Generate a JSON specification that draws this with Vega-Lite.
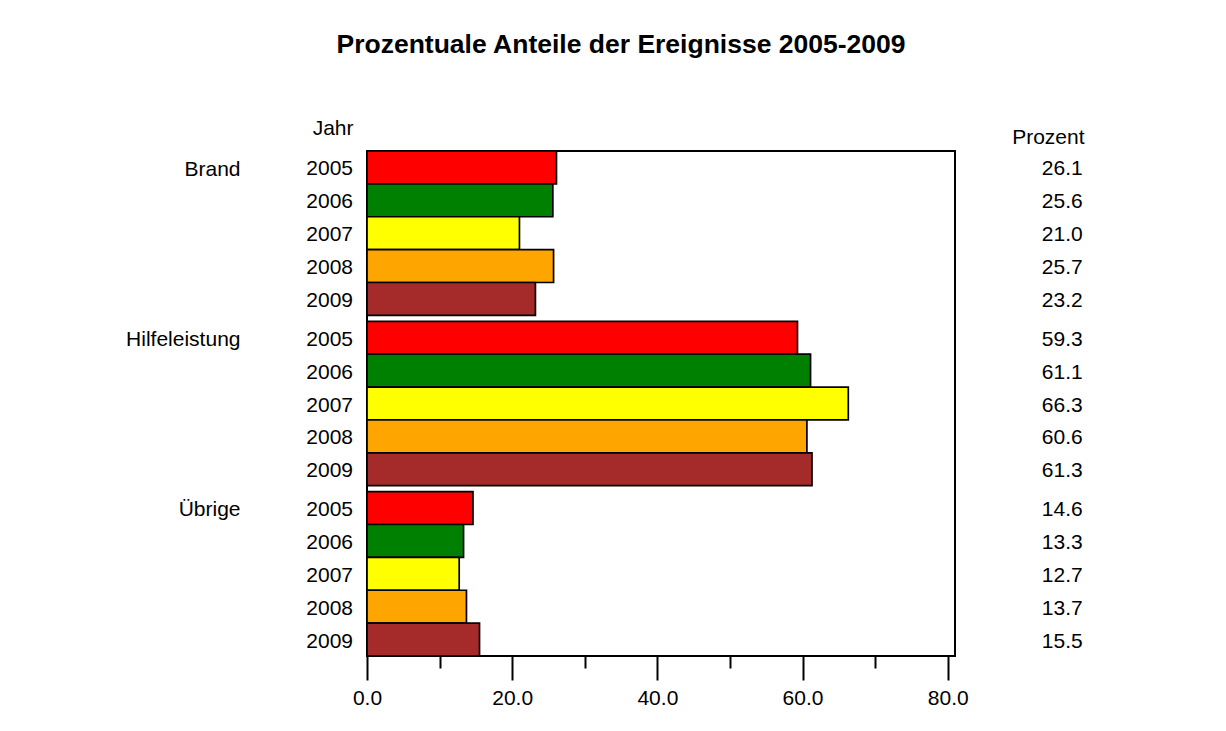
{
  "$schema": "https://vega.github.io/schema/vega-lite/v6.json",
  "autosize": "none",
  "padding": {"left": 367, "top": 151, "right": 271, "bottom": 75},
  "width": 588,
  "height": 505,
  "background": "white",
  "title": {
    "text": "Prozentuale Anteile der Ereignisse 2005-2009",
    "font": "Liberation Sans",
    "fontSize": 26.5,
    "fontWeight": "bold",
    "color": "black",
    "anchor": "middle",
    "frame": "group",
    "baseline": "alphabetic",
    "dx": -40,
    "offset": 38
  },
  "config": {
    "font": "Liberation Sans",
    "view": {"stroke": "black", "strokeWidth": 2}
  },
  "data": {
    "values": [
      {"Ereignis": "Brand", "Jahr": "2005", "Prozent": 26.1},
      {"Ereignis": "Brand", "Jahr": "2006", "Prozent": 25.6},
      {"Ereignis": "Brand", "Jahr": "2007", "Prozent": 21.0},
      {"Ereignis": "Brand", "Jahr": "2008", "Prozent": 25.7},
      {"Ereignis": "Brand", "Jahr": "2009", "Prozent": 23.2},
      {"Ereignis": "Hilfeleistung", "Jahr": "2005", "Prozent": 59.3},
      {"Ereignis": "Hilfeleistung", "Jahr": "2006", "Prozent": 61.1},
      {"Ereignis": "Hilfeleistung", "Jahr": "2007", "Prozent": 66.3},
      {"Ereignis": "Hilfeleistung", "Jahr": "2008", "Prozent": 60.6},
      {"Ereignis": "Hilfeleistung", "Jahr": "2009", "Prozent": 61.3},
      {"Ereignis": "Übrige", "Jahr": "2005", "Prozent": 14.6},
      {"Ereignis": "Übrige", "Jahr": "2006", "Prozent": 13.3},
      {"Ereignis": "Übrige", "Jahr": "2007", "Prozent": 12.7},
      {"Ereignis": "Übrige", "Jahr": "2008", "Prozent": 13.7},
      {"Ereignis": "Übrige", "Jahr": "2009", "Prozent": 15.5}
    ]
  },
  "layer": [
    {
      "mark": {"type": "bar", "stroke": "black", "strokeWidth": 1.7},
      "encoding": {
        "y": {
          "field": "Ereignis", "type": "nominal",
          "sort": ["Brand", "Hilfeleistung", "Übrige"],
          "scale": {"paddingInner": 0.035, "paddingOuter": 0},
          "axis": {
            "title": "Jahr", "titleAngle": 0, "titleAlign": "right", "titleBaseline": "middle",
            "titleX": -14, "titleY": -23, "titleFontSize": 21, "titleFontWeight": "normal", "titleColor": "black",
            "titleFont": "Liberation Sans",
            "labelFontSize": 21, "labelColor": "black", "labelAlign": "right", "labelBaseline": "middle",
            "labelPadding": 127, "labelOffset": -63.5, "ticks": false, "domain": false, "grid": false,
            "labelFont": "Liberation Sans"
          }
        },
        "yOffset": {"field": "Jahr", "type": "nominal", "sort": "ascending", "scale": {"paddingInner": 0, "paddingOuter": 0}},
        "x": {
          "field": "Prozent", "type": "quantitative",
          "scale": {"domain": [0, 81], "nice": false, "zero": true},
          "axis": {
            "values": [0, 10, 20, 30, 40, 50, 60, 70, 80],
            "format": ".1f",
            "labelExpr": "datum.value % 20 === 0 ? datum.label : ''",
            "labelFlush": false,
            "labelOverlap": false,
            "tickSize": {"condition": {"test": "datum.value % 20 === 0", "value": 24}, "value": 12},
            "tickWidth": 2, "tickColor": "black",
            "domain": false, "grid": false, "title": null,
            "labelFontSize": 21, "labelColor": "black", "labelPadding": 7, "labelFont": "Liberation Sans"
          }
        },
        "color": {
          "field": "Jahr", "type": "nominal",
          "scale": {"domain": ["2005", "2006", "2007", "2008", "2009"], "range": ["#ff0000", "#008000", "#ffff00", "#ffa500", "#a52a2a"]},
          "legend": null
        }
      }
    },
    {
      "mark": {"type": "text", "align": "right", "baseline": "middle", "dx": -14, "dy": 2, "fontSize": 21, "color": "black", "font": "Liberation Sans"},
      "encoding": {
        "y": {"field": "Ereignis", "type": "nominal", "sort": ["Brand", "Hilfeleistung", "Übrige"], "scale": {"paddingInner": 0.035, "paddingOuter": 0}, "axis": null},
        "yOffset": {"field": "Jahr", "type": "nominal", "sort": "ascending", "scale": {"paddingInner": 0, "paddingOuter": 0}},
        "x": {"datum": 0},
        "text": {"field": "Jahr"}
      }
    },
    {
      "mark": {"type": "text", "align": "right", "baseline": "middle", "dx": 135, "dy": 2, "fontSize": 21, "color": "black", "font": "Liberation Sans"},
      "encoding": {
        "y": {
          "field": "Ereignis", "type": "nominal", "sort": ["Brand", "Hilfeleistung", "Übrige"],
          "scale": {"paddingInner": 0.035, "paddingOuter": 0},
          "axis": {
            "orient": "right", "title": "Prozent", "titleAngle": 0, "titleAlign": "right", "titleBaseline": "middle",
            "titleX": 129, "titleY": -14, "titleFontSize": 21, "titleFontWeight": "normal", "titleColor": "black",
            "titleFont": "Liberation Sans",
            "labels": false, "ticks": false, "domain": false, "grid": false
          }
        },
        "yOffset": {"field": "Jahr", "type": "nominal", "sort": "ascending", "scale": {"paddingInner": 0, "paddingOuter": 0}},
        "x": {"datum": 80},
        "text": {"field": "Prozent", "type": "quantitative", "format": ".1f"}
      }
    }
  ],
  "resolve": {"scale": {"y": "independent"}, "axis": {"y": "independent"}}
}
